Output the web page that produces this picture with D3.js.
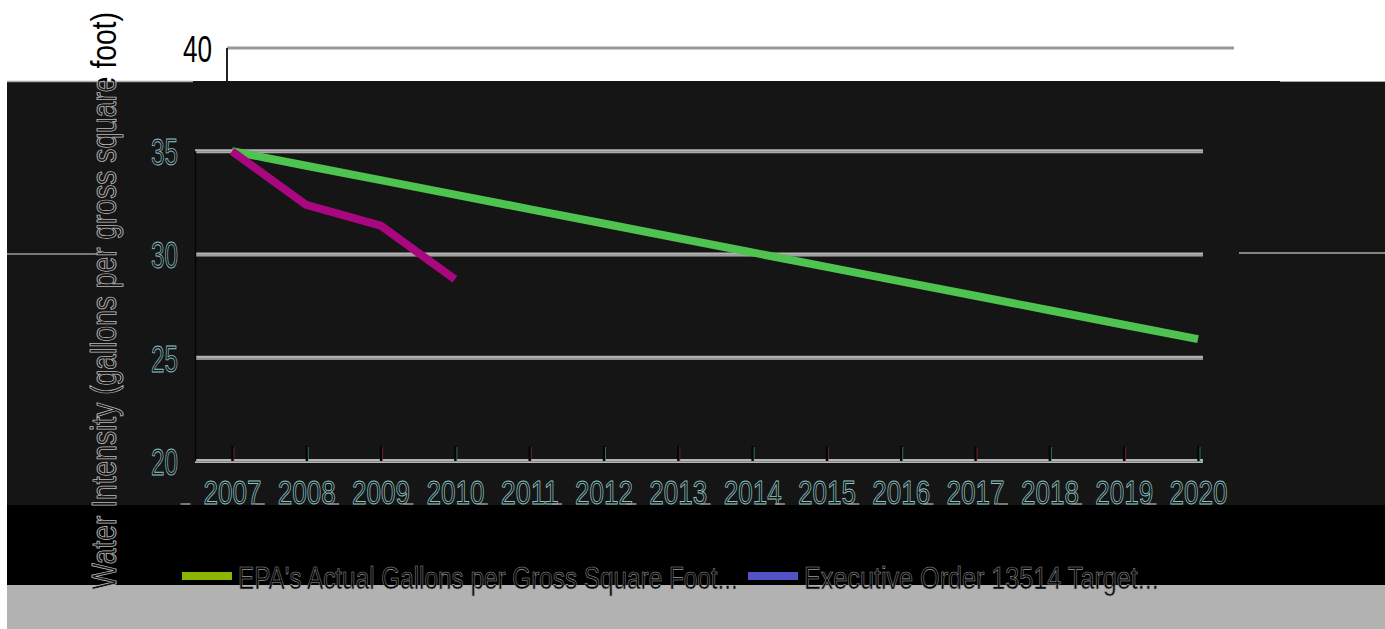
<!DOCTYPE html>
<html>
<head>
<meta charset="utf-8">
<script src="https://cdn.jsdelivr.net/npm/d3@7"></script>
<style>
  body { margin: 0; background: #fff; }
  svg { display: block; }
</style>
</head>
<body>
<div id="chart"></div>
<script>
// chart data
var years = ['2007', '2008', '2009', '2010', '2011', '2012', '2013', '2014', '2015', '2016', '2017', '2018', '2019', '2020'];
var targetValues = [35, 34.3, 33.6, 32.9, 32.2, 31.5, 30.8, 30.1, 29.4, 28.7, 28.0, 27.3, 26.6, 25.9];
var actualValues = [35, 32.4, 31.4, 28.8];
var yTicks = [20, 25, 30, 35, 40];
var legendLabels = ["EPA's Actual Gallons per Gross Square Foot...", 'Executive Order 13514 Target...'];
var yTitle = 'Water Intensity (gallons per gross square foot)';

var W = 1385, H = 629;
var font = "'Liberation Sans', Arial, sans-serif";

var svg = d3.select('#chart').append('svg')
  .attr('width', W)
  .attr('height', H);

// squeeze a text horizontally so it is `width` px long (font looks condensed)
function squeeze(sel, width, tx, ty, rot) {
  sel.each(function(d, i) {
    var w = typeof width === 'function' ? width(d, i) : width;
    var px = typeof tx === 'function' ? tx(d, i) : tx;
    var k = w / this.getComputedTextLength();
    d3.select(this).attr('transform',
      'translate(' + px + ',' + ty + ')' + (rot ? ' rotate(' + rot + ')' : '') + ' scale(' + k + ',1)');
  });
}

// background bands
svg.append('rect').attr('width', W).attr('height', H).attr('fill', '#fff');
svg.append('rect').attr('x', 7).attr('y', 81).attr('width', W - 7).attr('height', 424).attr('fill', '#151515');
svg.append('rect').attr('x', 7).attr('y', 505).attr('width', W - 7).attr('height', 80).attr('fill', '#000');
svg.append('rect').attr('x', 7).attr('y', 585).attr('width', W - 7).attr('height', 44).attr('fill', '#b2b2b2');

// stray lines at band edges
svg.append('line').attr('x1', 7).attr('x2', 193).attr('y1', 81.5).attr('y2', 81.5).attr('stroke', '#aaa').attr('stroke-width', 1.5);
svg.append('line').attr('x1', 1280).attr('x2', W).attr('y1', 81.5).attr('y2', 81.5).attr('stroke', '#aaa').attr('stroke-width', 1);
svg.append('line').attr('x1', 7).attr('x2', 98).attr('y1', 254).attr('y2', 254).attr('stroke', '#ddd').attr('stroke-width', 1.2);
svg.append('line').attr('x1', 1239).attr('x2', W).attr('y1', 253).attr('y2', 253).attr('stroke', '#aaa').attr('stroke-width', 1.5);

// scales
var x = d3.scalePoint().domain(years).range([232, 1198]);
var y = d3.scaleLinear().domain([20, 40]).range([461, 48]);

// gridlines
var grid = svg.append('g');
grid.selectAll('line.grid')
  .data(yTicks.filter(function(d) { return d < 40; }))
  .enter().append('line')
  .attr('class', 'grid')
  .attr('x1', 195).attr('x2', 1203)
  .attr('y1', function(d) { return y(d); })
  .attr('y2', function(d) { return y(d); })
  .attr('stroke', '#b4b4b4')
  .attr('stroke-width', 4);
grid.selectAll('line.grid-in')
  .data(yTicks.filter(function(d) { return d < 40; }))
  .enter().append('line')
  .attr('class', 'grid-in')
  .attr('x1', 195).attr('x2', 1203)
  .attr('y1', function(d) { return y(d) + 0.5; })
  .attr('y2', function(d) { return y(d) + 0.5; })
  .attr('stroke', '#8a8a8a')
  .attr('stroke-width', 1);

// top gridline (40) sits in the white strip
svg.append('line')
  .attr('x1', 227).attr('x2', 1234)
  .attr('y1', y(40)).attr('y2', y(40))
  .attr('stroke', '#999').attr('stroke-width', 3);
svg.append('line')
  .attr('x1', 227).attr('x2', 227)
  .attr('y1', y(40)).attr('y2', 81)
  .attr('stroke', '#222').attr('stroke-width', 2);

// y axis line
svg.append('line')
  .attr('x1', 195.5).attr('x2', 195.5)
  .attr('y1', y(35)).attr('y2', y(20))
  .attr('stroke', '#050505').attr('stroke-width', 1.5);

// y axis labels
var yAxis = svg.append('g')
  .attr('transform', 'translate(195,0)')
  .call(d3.axisLeft(y).tickValues(yTicks).tickSize(0).tickPadding(17));
yAxis.select('.domain').remove();
yAxis.selectAll('text')
  .attr('font-family', font)
  .attr('font-size', 36)
  .attr('dy', '0.37em')
  .attr('textLength', 27)
  .attr('lengthAdjust', 'spacingAndGlyphs')
  .attr('fill', '#151515')
  .attr('stroke', '#8fc4c4')
  .attr('stroke-width', 0.9);
yAxis.selectAll('.tick')
  .filter(function(d) { return d === 40; })
  .select('text')
  .attr('x', 17)
  .attr('textLength', 29)
  .attr('fill', '#000')
  .attr('stroke', 'none');

// x axis with upward ticks
var xAxis = svg.append('g')
  .attr('transform', 'translate(0,461)')
  .call(d3.axisBottom(x).tickSizeInner(-15).tickSizeOuter(0).tickPadding(19));
xAxis.select('.domain').remove();
xAxis.selectAll('line')
  .attr('stroke', '#050505')
  .attr('stroke-width', 2.5);
xAxis.selectAll('.tick').append('line')
  .attr('x1', 1.5).attr('x2', 1.5)
  .attr('y1', -14).attr('y2', -1)
  .attr('stroke', function(d, i) { return i % 2 ? '#2a8a8a' : '#8a2a2a'; })
  .attr('stroke-width', 0.8);
xAxis.selectAll('text')
  .attr('font-family', font)
  .attr('font-size', 34)
  .attr('dy', '0.71em')
  .attr('textLength', 58)
  .attr('lengthAdjust', 'spacingAndGlyphs')
  .attr('fill', '#151515')
  .attr('stroke', '#8fc4c4')
  .attr('stroke-width', 0.9);
// little underscores trailing each label
xAxis.selectAll('.tick').append('line')
  .attr('x1', -52).attr('x2', -42)
  .attr('y1', 43).attr('y2', 43)
  .attr('stroke', '#9a9a9a')
  .attr('stroke-width', 1.5);

// series lines
var line = d3.line()
  .x(function(d, i) { return x(years[i]); })
  .y(function(d) { return y(d); });

svg.append('path')
  .datum(targetValues)
  .attr('d', line)
  .attr('fill', 'none')
  .attr('stroke', '#4fc34f')
  .attr('stroke-width', 8);

svg.append('path')
  .datum(actualValues)
  .attr('d', line)
  .attr('fill', 'none')
  .attr('stroke', '#a8077f')
  .attr('stroke-width', 8)
  .attr('stroke-linejoin', 'round');

// y axis title: black over the white strip, outlined over the dark band
var defs = svg.append('defs');
defs.append('clipPath').attr('id', 'clip-top')
  .append('rect').attr('x', 0).attr('y', 0).attr('width', W).attr('height', 81);
defs.append('clipPath').attr('id', 'clip-dark')
  .append('rect').attr('x', 0).attr('y', 81).attr('width', W).attr('height', H - 81);

function addTitle(clip, fill, stroke) {
  var t = svg.append('g')
    .attr('clip-path', 'url(#' + clip + ')')
    .append('text')
    .attr('text-anchor', 'middle')
    .attr('font-family', font)
    .attr('font-size', 35)
    .attr('fill', fill)
    .attr('stroke', stroke)
    .attr('stroke-width', stroke === 'none' ? 0 : 0.9)
    .text(yTitle);
  squeeze(t, 578, 116, 301, -90);
}
addTitle('clip-top', '#000', 'none');
addTitle('clip-dark', '#151515', '#b8b8b8');

// legend
var legendColors = ['#8ab500', '#5252c6'];
var legendX = [182, 748];
var legendW = [500, 355];
var legend = svg.append('g');
legend.selectAll('rect')
  .data(legendLabels)
  .enter().append('rect')
  .attr('x', function(d, i) { return legendX[i]; })
  .attr('y', 572)
  .attr('width', 50)
  .attr('height', 8)
  .attr('fill', function(d, i) { return legendColors[i]; });
var legendText = legend.selectAll('text')
  .data(legendLabels)
  .enter().append('text')
  .attr('font-family', font)
  .attr('font-size', 31)
  .attr('fill', '#050505')
  .attr('stroke', '#9a9a9a')
  .attr('stroke-width', 0.6)
  .text(function(d) { return d; });
squeeze(legendText, function(d, i) { return legendW[i]; }, function(d, i) { return legendX[i] + 56; }, 589);
</script>
</body>
</html>
